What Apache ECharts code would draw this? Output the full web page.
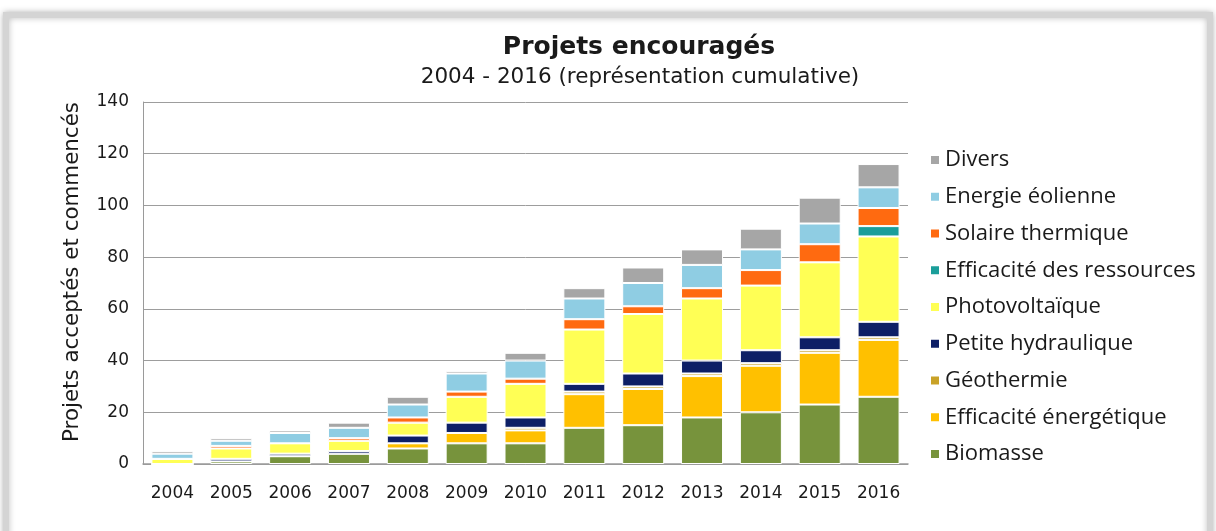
<!DOCTYPE html>
<html>
<head>
<meta charset="utf-8">
<script src="https://cdn.jsdelivr.net/npm/echarts@6/dist/echarts.min.js"></script>
<style>
html,body{margin:0;padding:0;background:#fff;}
#chart{width:1216px;height:531px;}
</style>
</head>
<body>
<div id="chart"></div>
<script>
const years = ['2004','2005','2006','2007','2008','2009','2010','2011','2012','2013','2014','2015','2016'];
const biomasse        = [0,1,3,4,6,8,8,14,15,18,20,23,26];
const efficaciteEnerg = [0,0,0,0,2,4,5,13,14,16,18,20,22];
const geothermie      = [0,0,0,0,0,0,1,1,1,1,1,1,1];
const petiteHydr      = [0,1,1,1,3,4,4,3,5,5,5,5,6];
const photovoltaique  = [2,4,4,4,5,10,13,21,23,24,25,29,33];
const efficaciteRess  = [0,0,0,0,0,0,0,0,0,0,0,0,4];
const solaireTherm    = [0,1,0,1,2,2,2,4,3,4,6,7,7];
const energieEol      = [2,2,4,4,5,7,7,8,9,9,8,8,8];
const divers          = [1,1,1,2,3,1,3,4,6,6,8,10,9];
const yTicks = [0,20,40,60,80,100,120,140];

const seriesDefs = [
  ['Biomasse', biomasse, '#77933c'],
  ['Efficacité énergétique', efficaciteEnerg, '#ffc000'],
  ['Géothermie', geothermie, '#c9a227'],
  ['Petite hydraulique', petiteHydr, '#0d1f66'],
  ['Photovoltaïque', photovoltaique, '#ffff55'],
  ['Efficacité des ressources', efficaciteRess, '#1a9e9a'],
  ['Solaire thermique', solaireTherm, '#ff6a10'],
  ['Energie éolienne', energieEol, '#8fcde3'],
  ['Divers', divers, '#a6a6a6']
];

const F = 'DejaVu Sans, Liberation Sans, Arial, sans-serif';
const chart = echarts.init(document.getElementById('chart'), null, {renderer:'canvas'});
chart.setOption({
  animation:false,
  textStyle:{fontFamily:F},
  grid:{left:143, right:308, top:102, bottom:67},
  graphic:[
    {type:'rect', silent:true, z:-10, shape:{x:6,y:15,width:1204,height:540},
     style:{fill:'#fff', stroke:'#d4d4d4', lineWidth:6, shadowBlur:6, shadowColor:'rgba(0,0,0,0.25)'}},
    {type:'text', x:639, y:47, style:{text:'Projets encouragés', fontFamily:F, fontSize:25, fontWeight:'bold', fill:'#1a1a1a', textAlign:'center', textVerticalAlign:'middle'}},
    {type:'text', x:640, y:77, style:{text:'2004 - 2016 (représentation cumulative)', fontFamily:F, fontSize:21.5, fill:'#1a1a1a', textAlign:'center', textVerticalAlign:'middle'}}
  ],
  legend:{
    orient:'vertical', left:929, top:149, padding:0,
    itemWidth:10, itemHeight:10, itemGap:14.75, icon:'rect',
    data: seriesDefs.map(s=>s[0]).reverse(),
    textStyle:{fontFamily:'Open Sans, Lato, sans-serif', fontSize:22, lineHeight:22, color:'#1a1a1a'}
  },
  xAxis:{
    type:'category', data:years,
    axisLine:{lineStyle:{color:'#9a9a9a', width:1.5}},
    axisTick:{show:false},
    axisLabel:{color:'#1a1a1a', fontSize:17, margin:21}
  },
  yAxis:{
    type:'value', min:yTicks[0], max:yTicks[yTicks.length-1], interval:20,
    name:'Projets acceptés et commencés', nameLocation:'middle', nameGap:60,
    nameTextStyle:{fontSize:21.4, color:'#1a1a1a', padding:[0,0,0,22]},
    axisLine:{show:true, lineStyle:{color:'#9a9a9a'}},
    axisTick:{show:false},
    splitLine:{lineStyle:{color:'#9d9d9d', width:1}},
    axisLabel:{color:'#1a1a1a', fontSize:17, margin:14}
  },
  series: seriesDefs.map(([name,data,color])=>({
    name, type:'bar', stack:'total', data, barWidth:42,
    itemStyle:{color, borderColor:'#ffffff', borderWidth:1}
  }))
});
</script>
</body>
</html>
